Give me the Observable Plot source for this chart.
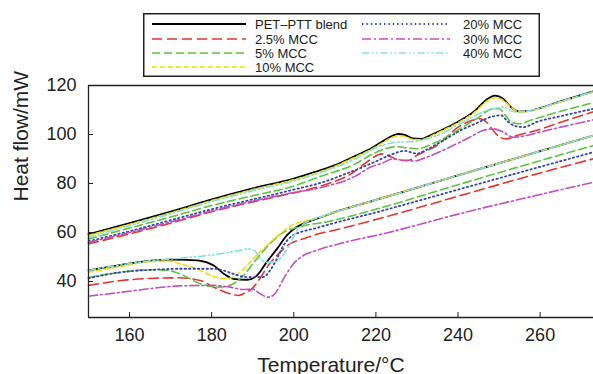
<!DOCTYPE html>
<html><head><meta charset="utf-8">
<script src="https://cdn.jsdelivr.net/npm/d3@7"></script>
<script src="https://cdn.jsdelivr.net/npm/@observablehq/plot@0.6"></script>
<style>
body{margin:0;background:#fff;font-family:"Liberation Sans",Arial,sans-serif}
#wrap{position:relative;width:593px;height:374px;overflow:hidden}
#legend{position:absolute;left:143px;top:13px}
</style></head><body><div id="wrap"></div>
<script>
// ---- data ----
const seriesNames = ["PET\u2013PTT blend", "2.5% MCC", "5% MCC", "10% MCC", "20% MCC", "30% MCC", "40% MCC"];
const seriesColors = ["#000000", "#e8352b", "#5cc43e", "#f0dc10", "#3346b0", "#c24fc0", "#86e0da"];
const seriesDash = ["none", "10,5", "8,4", "5,3", "1.4,3", "9,3,2,3", "7,3,1.5,2.5,1.5,3"];
const seriesWidth = [1.8, 1.6, 1.6, 1.6, 1.8, 1.6, 1.6];

const xTicks = [160, 180, 200, 220, 240, 260];
const yTicks = [40, 60, 80, 100, 120];
const xDomain = [150, 273];
const yDomain = [25.3, 120];

// upper (heating) curves: [temperature, heat flow]
const blendUpper = [[150,59.3],[160,63.8],[170,68.5],[180,73.5],[190,78],[200,82],[205,84.6],[210,87.5],[215,91.3],[219,94.5],[222,97.6],[224,99.5],[225.5,100.2],[227,99.8],[229,98.4],[231,98.2],[233,99.5],[235,101],[240,105.2],[244,109.5],[247,114.3],[249,115.9],[251,114.6],[253,111],[255,109.3],[257,109.5],[260,110.8],[265,113.5],[273,117.6]];
const mcc25Upper = [[150,55.4],[160,59.4],[170,63.8],[180,68.5],[190,72.5],[199,75.8],[207,79.2],[214,84],[218,89],[221.5,92.1],[223.5,91],[226,89.4],[228,89.5],[230,91.5],[234.8,95.5],[240.5,103.5],[243.5,105.8],[245.3,106.4],[247,105],[248.6,101.6],[250.2,98.9],[251.8,98.2],[254.3,99.6],[259,101.6],[265,105],[273,109.3]];
const mcc5Upper = [[150,57.3],[160,61.8],[170,66.3],[180,71],[190,75],[199,78.5],[207,83.2],[215,88],[218.5,91.4],[222,94],[225,95],[228,94.4],[230,94.2],[234,96.3],[237,98.8],[240,101.8],[245,107],[248.5,110.5],[250,110.5],[251.5,108],[253,105],[255,104.4],[258,106],[260,107],[265,109.5],[273,113]];
const mcc10Upper = [[150,58.8],[160,63.3],[170,68],[180,73],[190,77.5],[200,81.5],[205,84],[210,87],[215,90.8],[219,94],[222,97],[224,98.8],[225.5,99.5],[227,99.2],[229,98],[231,97.8],[233,99],[235,100.6],[240,104.8],[244,109],[247,113.5],[249,115],[251,114],[253,111],[255,109.2],[257,109.4],[260,110.6],[265,113.3],[273,117.4]];
const mcc20Upper = [[150,56.4],[160,60.5],[170,65],[180,69.5],[190,73.5],[199,77.1],[207,80.5],[215,85.5],[220,89],[224,92],[227,93.3],[230,92.2],[232,93.5],[235,96.2],[241,102],[245,105],[248,107.2],[250.5,107.8],[252,105.5],[253.5,103.7],[256,103],[259,105],[265,107.5],[273,110.5]];
const mcc30Upper = [[150,56],[160,60],[170,64.3],[180,68.8],[190,72.8],[199,76],[207,78.5],[215,83],[218.5,86.5],[221.8,88.5],[224,90],[226.5,89.5],[229.5,89.2],[232,90.5],[238.8,95.5],[243,99],[246,101.6],[248.6,102.3],[251,101],[253.4,98.9],[256.7,99.6],[260,101],[265,103],[273,106]];
const mcc40Upper = [[150,58],[160,62.8],[170,67.6],[180,72.6],[190,77],[200,81],[205,83.6],[210,86.5],[215,90],[220,94.5],[224,96.6],[227,97],[230,97.3],[233,98.5],[236,100.3],[240,104],[243,106.6],[246,109.2],[249.5,110.8],[251,111.2],[252.6,110],[254,109.2],[256,109.4],[260,110.8],[265,113.5],[273,117.5]];

// lower (cooling) curves
const blendLower = [[150,44.5],[158,46.8],[166,48.6],[170,48.9],[174,48.8],[177,48.5],[180.5,46.5],[183,43.1],[185.3,41.1],[188.6,40.7],[191,42.4],[193.4,47.9],[195.9,53.3],[198.3,58.8],[200.7,62.2],[203.2,64.2],[205.6,65.6],[210,68.3],[220,73.3],[240,83.3],[260,93.2],[273,99.6]];
const mcc25Lower = [[150,38.4],[158,40.4],[166,41.3],[172,41.5],[177.2,40.4],[180.5,37.7],[184.5,35],[186.5,34.3],[187.7,35],[190.2,37.7],[191.4,40.4],[194,47],[196.7,52],[199.1,55.4],[202.3,57.4],[205.6,59.3],[208.8,60.5],[220,65.3],[240,74.8],[260,84.3],[273,90.1]];
const mcc5Lower = [[150,41.6],[158,43.8],[165,44.8],[169,44.6],[172.3,43.1],[177.2,39.1],[182.1,37.7],[185.3,39.1],[187.7,42.4],[191,49.3],[194.2,55.4],[197.5,60.1],[200.7,62],[204,63.3],[208,64.3],[211.3,65.6],[220,69.5],[240,79.5],[260,89.3],[273,95.5]];
const mcc10Lower = [[150,43.8],[158,46.1],[166,48.2],[170,48.2],[172.3,47.2],[176.4,45.2],[180.5,42],[183.7,41.1],[186.9,43.8],[190.2,49.3],[193.4,54.7],[196.7,59.5],[199.9,63.2],[203,64.8],[206,66],[210,68.3],[220,73.3],[240,83.3],[260,93.2],[273,99.6]];
const mcc20Lower = [[150,41.3],[158,43.8],[166,44.8],[172.3,45.2],[180.5,45.2],[182.9,44.5],[185.3,43.1],[188.6,41.8],[192.6,41.8],[194.2,44.5],[195.9,49.3],[197.5,54.7],[199.1,58],[201.5,60.1],[204.8,61.5],[209.7,63.8],[220,68.2],[240,77.5],[260,86.8],[273,92.8]];
const mcc30Lower = [[150,34],[158,35.6],[166,37.3],[172,38.2],[180.5,38.4],[184.5,37.7],[187.7,36.7],[189.8,37],[191.8,35],[193.8,33.6],[195.4,35],[197.5,41.1],[199.9,47.2],[202.3,50.6],[205.6,52.7],[211.3,55.5],[222.6,59.8],[240,67.5],[260,75.5],[273,80.5]];
const mcc40Lower = [[150,44.5],[158,46.8],[166,48.6],[172.3,49.5],[180.5,50.9],[186.9,52.7],[189,53.3],[190.5,52.5],[191.8,49.5],[193.5,47.8],[195.5,48],[197.5,51],[199,55],[200.3,59.5],[202,63],[205,65.5],[210,68.3],[220,73.3],[240,83.3],[260,93.2],[273,99.6]];

const upperCurves = [blendUpper, mcc25Upper, mcc5Upper, mcc10Upper, mcc20Upper, mcc30Upper, mcc40Upper];
const lowerCurves = [blendLower, mcc25Lower, mcc5Lower, mcc10Lower, mcc20Lower, mcc30Lower, mcc40Lower];

// ---- build ----
const font = "Liberation Sans, Arial, Helvetica, sans-serif";
const lineMarks = seriesNames.map((name, i) => {
  const rows = [
    ...upperCurves[i].map(([T, v]) => ({T, v, branch: "upper"})),
    ...lowerCurves[i].map(([T, v]) => ({T, v, branch: "lower"}))
  ];
  return Plot.line(rows, {
    x: "T", y: "v", z: "branch",
    stroke: seriesColors[i],
    strokeWidth: seriesWidth[i],
    strokeDasharray: seriesDash[i] === "none" ? null : seriesDash[i],
    curve: "monotone-x"
  });
});

const chart = Plot.plot({
  width: 593, height: 374,
  marginLeft: 88, marginRight: 0, marginTop: 85, marginBottom: 57,
  style: {fontFamily: font, fontSize: "18px", color: "#222", background: "#fff"},
  x: {domain: xDomain},
  y: {domain: yDomain},
  marks: [
    ...lineMarks,
    Plot.ruleX([xDomain[0]], {stroke: "#222", strokeWidth: 1.3}),
    Plot.ruleY([yDomain[0]], {stroke: "#222", strokeWidth: 1.3}),
    Plot.ruleY([yDomain[1]], {stroke: "#222", strokeWidth: 1.3}),
    Plot.axisX({ticks: xTicks, tickSize: -5, tickPadding: 16, label: null, fontSize: 18, stroke: "#222"}),
    Plot.axisY({ticks: yTicks, tickSize: -5, tickPadding: 17, label: null, fontSize: 18, stroke: "#222"}),
    Plot.text(["Temperature/\u00b0C"], {frameAnchor: "bottom", dx: -10, dy: 54, lineAnchor: "bottom", fontSize: 21, fill: "#222"}),
    Plot.text(["Heat flow/mW"], {frameAnchor: "left", dx: -67, rotate: -90, fontSize: 21, fill: "#222"})
  ]
});
const wrap = document.getElementById("wrap");
wrap.appendChild(chart);

// ---- legend ----
const leg = d3.select(wrap).append("svg").attr("id", "legend")
  .attr("width", 398).attr("height", 65)
  .style("font-family", font).style("font-size", "13px");
leg.append("rect").attr("x", 0.75).attr("y", 0.75).attr("width", 395.5).attr("height", 62.5)
  .attr("fill", "#fff").attr("stroke", "#222").attr("stroke-width", 1.5);
const rowY = [11, 26, 40, 54];
const layout = [[0,0],[0,1],[0,2],[0,3],[1,0],[1,1],[1,2]];
const colLine = [[9, 103], [219, 307]];
const colText = [112, 320];
seriesNames.forEach((name, i) => {
  const [c, r] = layout[i];
  leg.append("line").attr("x1", colLine[c][0]).attr("x2", colLine[c][1])
    .attr("y1", rowY[r]).attr("y2", rowY[r])
    .attr("stroke", seriesColors[i]).attr("stroke-width", seriesWidth[i])
    .attr("stroke-dasharray", seriesDash[i] === "none" ? null : seriesDash[i]);
  leg.append("text").attr("x", colText[c]).attr("y", rowY[r]).attr("dy", "0.35em")
    .attr("fill", "#222").text(name);
});
</script></body></html>
